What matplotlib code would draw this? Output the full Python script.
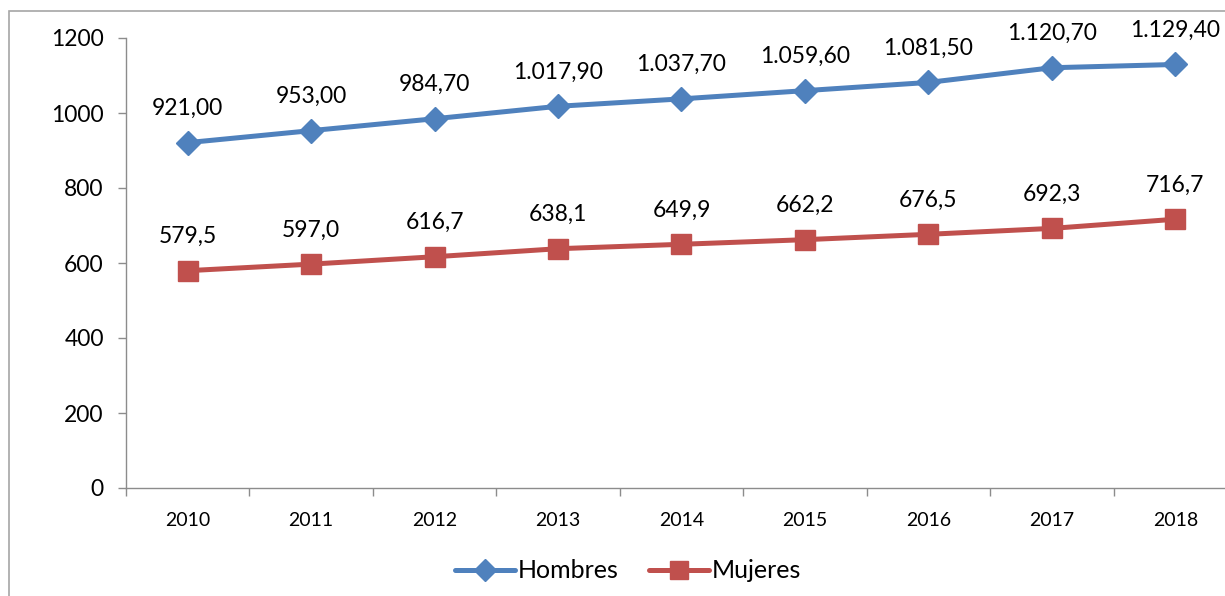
import matplotlib
matplotlib.use("Agg")
import matplotlib.pyplot as plt
from matplotlib.patches import Rectangle

years = ["2010", "2011", "2012", "2013", "2014", "2015", "2016", "2017", "2018"]
hombres = [921.00, 953.00, 984.70, 1017.90, 1037.70, 1059.60, 1081.50, 1120.70, 1129.40]
mujeres = [579.5, 597.0, 616.7, 638.1, 649.9, 662.2, 676.5, 692.3, 716.7]
yticks = [0, 200, 400, 600, 800, 1000, 1200]

BLUE = "#4F81BD"
RED = "#C0504D"
GRAY = "#8C8C8C"
FONT = ["Lato", "DejaVu Sans"]
plt.rcParams["font.family"] = FONT


def fmt(v, dec):
    s = f"{v:,.{dec}f}"
    return s.replace(",", "X").replace(".", ",").replace("X", ".")


fig = plt.figure(figsize=(12.25, 5.96), dpi=100)
fig.patches.append(Rectangle((9 / 1225, -0.05), 1.1, (596 - 11) / 596 + 0.05,
                             transform=fig.transFigure, fill=False,
                             edgecolor="#A6A6A6", linewidth=1.2))

ax = fig.add_axes([126 / 1225, (596 - 488) / 596, (1237 - 126) / 1225, (488 - 38) / 596])
x = list(range(len(years)))
ax.plot(x, hombres, color=BLUE, lw=3.6, marker="D", ms=12, mec=BLUE, mfc=BLUE,
        label="Hombres", solid_capstyle="round")
ax.plot(x, mujeres, color=RED, lw=3.6, marker="s", ms=14, mec=RED, mfc=RED,
        label="Mujeres", solid_capstyle="round")

for xi, v in zip(x, hombres):
    ax.annotate(fmt(v, 2), (xi, v), xytext=(0, 17), textcoords="offset points",
                ha="center", va="bottom", fontsize=16.5)
for xi, v in zip(x, mujeres):
    ax.annotate(fmt(v, 1), (xi, v), xytext=(0, 17), textcoords="offset points",
                ha="center", va="bottom", fontsize=16.5)

ax.set_xlim(-0.5, len(years) - 0.5)
ax.set_ylim(0, 1200)
ax.set_yticks(yticks)
ax.set_yticklabels([str(t) for t in yticks], fontsize=16.5)
ax.set_xticks(x)
ax.set_xticklabels(years, fontsize=14)
ax.set_xticks([i - 0.5 for i in range(len(years) + 1)], minor=True)
ax.tick_params(axis="x", which="major", length=0, pad=17)
ax.tick_params(axis="x", which="minor", length=6, color=GRAY, width=1)
ax.tick_params(axis="y", length=6, color=GRAY, width=1, pad=10)
for s in ["top", "right"]:
    ax.spines[s].set_visible(False)
for s in ["left", "bottom"]:
    ax.spines[s].set_color(GRAY)
    ax.spines[s].set_linewidth(1)

leg = fig.legend(loc="center", bbox_to_anchor=(628 / 1225, (596 - 571) / 596), ncol=2,
                 frameon=False, fontsize=18, handlelength=2.4, handletextpad=0.1,
                 columnspacing=1.2, markerscale=0.9)

fig.savefig("out.png", dpi=100)
